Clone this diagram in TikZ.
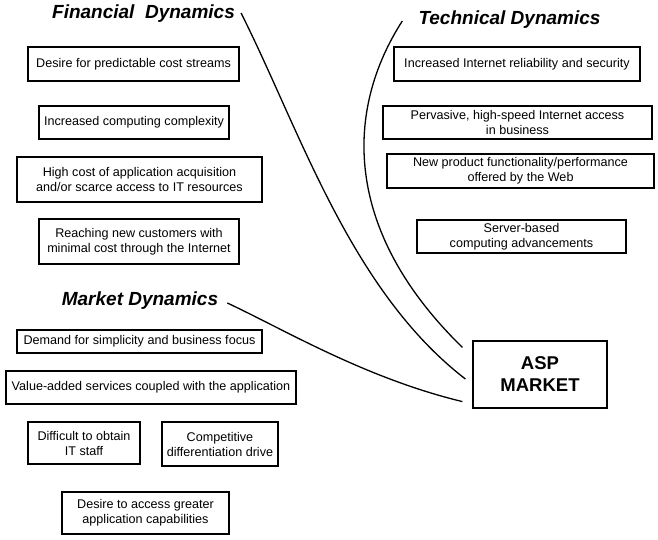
\documentclass[tikz,border=0pt]{standalone}
\usepackage{fontspec}
\setmainfont{Liberation Sans}
\usetikzlibrary{calc}
\begin{document}
\begin{tikzpicture}[x=1pt,y=-1pt,
  box/.style={draw, line width=1.1pt, align=center, inner sep=0pt,
    font=\fontsize{12.6}{15}\selectfont},
  title/.style={inner sep=0pt, font=\fontsize{19}{22}\selectfont\bfseries\itshape},
  asp/.style={draw, line width=1.2pt, align=center, inner sep=0pt,
    font=\fontsize{18.5}{22}\selectfont\bfseries},
  link/.style={line width=1.3pt}]
\useasboundingbox (0,0) rectangle (658,540);
% titles
\node[title] (fin) at (143.5,14) {Financial\ \ Dynamics};
\node[title] (tech) at (509.5,20) {Technical Dynamics};
\node[title] (mkt) at (140,301) {Market Dynamics};
% financial boxes
\node[box, minimum width=211, minimum height=34] (f1) at (133.5,64) {Desire for predictable cost streams};
\node[box, minimum width=190, minimum height=33] (f2) at (134,122.5) {Increased computing complexity};
\node[box, minimum width=245, minimum height=45] (f3) at (139.5,179.5) {High cost of application acquisition\\and/or scarce access to IT resources};
\node[box, minimum width=200, minimum height=45] (f4) at (139,241.5) {Reaching new customers with\\minimal cost through the Internet};
% technical boxes
\node[box, minimum width=246, minimum height=34] (t1) at (517,64) {Increased Internet reliability and security};
\node[box, minimum width=269, minimum height=33] (t2) at (517.5,122.5) {Pervasive, high-speed Internet access\\in business};
\node[box, minimum width=267, minimum height=34] (t3) at (520.5,171) {New product functionality/performance\\offered by the Web};
\node[box, minimum width=209, minimum height=33] (t4) at (521.5,236.5) {Server-based\\computing advancements};
% market boxes
\node[box, minimum width=245, minimum height=23] (m1) at (139.5,341.5) {Demand for simplicity and business focus};
\node[box, minimum width=290, minimum height=33] (m2) at (151,387.5) {Value-added services coupled with the application};
\node[box, minimum width=112, minimum height=42] (m3) at (84,443) {Difficult to obtain\\IT staff};
\node[box, minimum width=116, minimum height=44] (m4) at (220,444) {Competitive\\differentiation drive};
\node[box, minimum width=167, minimum height=42] (m5) at (145.5,513) {Desire to access greater\\application capabilities};
% ASP market
\node[asp, minimum width=134, minimum height=67] (aspm) at (540,374.5) {ASP\\MARKET};
% connectors
\coordinate (finS) at ($(fin.east)+(6,-1)$);
\coordinate (finE) at ($(aspm.west)+(-7,4.5)$);
\draw[link] (finS) .. controls (300,130) and (350,290) .. (finE);
\coordinate (techS) at ($(tech.west)+(-16,1)$);
\coordinate (techE) at ($(aspm.north west)+(-10,7)$);
\draw[link] (techS) .. controls (345,110) and (342,230) .. (techE);
\coordinate (mktS) at ($(mkt.east)+(9,2)$);
\coordinate (mktE) at ($(aspm.south west)+(-10,-7)$);
\draw[link] (mktS) .. controls (285,330) and (365,378) .. (mktE);
\end{tikzpicture}
\end{document}
